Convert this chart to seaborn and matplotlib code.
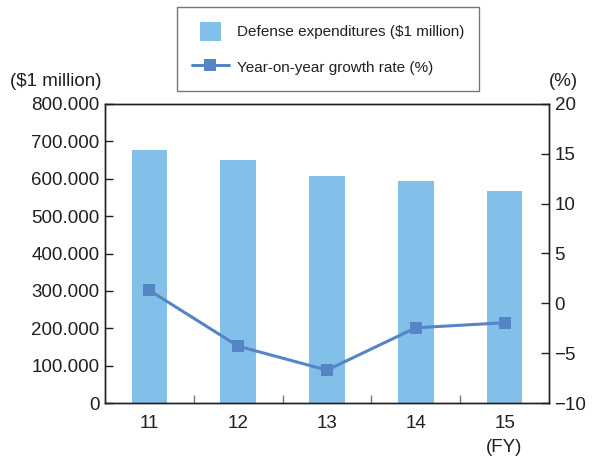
import matplotlib
matplotlib.use("Agg")
import matplotlib.pyplot as plt
from matplotlib.lines import Line2D
from matplotlib.patches import Patch, Rectangle
from matplotlib.legend_handler import HandlerPatch
import seaborn as sns
import pandas as pd

years = ["11", "12", "13", "14", "15"]
expenditures = [678000, 650000, 607000, 593000, 568000]
growth = [1.3, -4.3, -6.7, -2.45, -1.95]
left_ticks = [0, 100000, 200000, 300000, 400000, 500000, 600000, 700000, 800000]
left_labels = ["0", "100.000", "200.000", "300.000", "400.000", "500.000", "600.000", "700.000", "800.000"]
right_ticks = [-10, -5, 0, 5, 10, 15, 20]
right_labels = ["\u221210", "\u22125", "0", "5", "10", "15", "20"]

sns.set_theme(style="white")
plt.rcParams["font.family"] = ["Liberation Sans", "DejaVu Sans"]

bar_color = "#82C0EA"
line_color = "#5585C5"
text_color = "#231F20"

df = pd.DataFrame({"year": years, "exp": expenditures, "growth": growth})

W, H = 596, 459
fig = plt.figure(figsize=(W / 100, H / 100), dpi=100)
ax = fig.add_axes([105 / W, 1 - 403 / H, (549 - 105) / W, (403 - 104) / H])

sns.barplot(data=df, x="year", y="exp", color=bar_color, width=0.4, ax=ax,
            saturation=1, edgecolor="none")
ax.set_xlim(-0.5, 4.5)
ax.set_ylim(0, 800000)
ax.set_yticks(left_ticks)
ax.set_yticklabels(left_labels)
ax.set_xlabel("")
ax.set_ylabel("")

ax2 = ax.twinx()
sns.lineplot(x=list(range(len(years))), y=growth, ax=ax2, color=line_color,
             linewidth=2.2, marker="s", markersize=9, markeredgewidth=0,
             markerfacecolor=line_color)
ax2.set_ylim(-10, 20)
ax2.set_yticks(right_ticks)
ax2.set_yticklabels(right_labels)
ax2.set_ylabel("")

for a in (ax, ax2):
    for s in a.spines.values():
        s.set_visible(True)
        s.set_color(text_color)
        s.set_linewidth(1.0)
    a.tick_params(axis="y", direction="in", length=6, width=1, colors=text_color,
                  labelsize=13.5, labelcolor=text_color, pad=4)

ax.tick_params(axis="x", length=0, labelsize=13.5, labelcolor=text_color, pad=9)
ax.set_xticks(range(len(years)))
ax.set_xticklabels(years)
ax.set_xticks([0.5, 1.5, 2.5, 3.5], minor=True)
ax.tick_params(axis="x", which="minor", direction="in", length=6, width=1,
               color="#777777", bottom=True)

fig.text(10 / W, 1 - 82 / H, "($1 million)", fontsize=13.5, color=text_color,
         ha="left", va="center")
fig.text(563 / W, 1 - 82 / H, "(%)", fontsize=13.5, color=text_color,
         ha="center", va="center")
fig.text(504 / W, 1 - 448 / H, "(FY)", fontsize=13.5, color=text_color,
         ha="center", va="center")


def square_patch(legend, orig_handle, xdescent, ydescent, width, height, fontsize):
    side = height * 1.05
    return Rectangle((-xdescent + (width - side) / 2, -ydescent), side, height)


handles = [
    Patch(facecolor=bar_color, edgecolor="none"),
    Line2D([0], [0], color=line_color, linewidth=2.2, marker="s", markersize=8.5,
           markeredgewidth=0),
]
leg = fig.legend(handles, ["Defense expenditures ($1 million)", "Year-on-year growth rate (%)"],
                 loc="upper left", bbox_to_anchor=(177 / W, 1 - 7 / H),
                 frameon=True, fancybox=False, fontsize=11, handlelength=2.45,
                 handleheight=1.6, handletextpad=0.55, borderpad=0.95,
                 labelspacing=1.05, borderaxespad=0,
                 handler_map={Patch: HandlerPatch(patch_func=square_patch)})
leg.get_frame().set_edgecolor("#555555")
leg.get_frame().set_linewidth(1.0)
for t in leg.get_texts():
    t.set_color(text_color)

fig.savefig("out.png", dpi=100)
